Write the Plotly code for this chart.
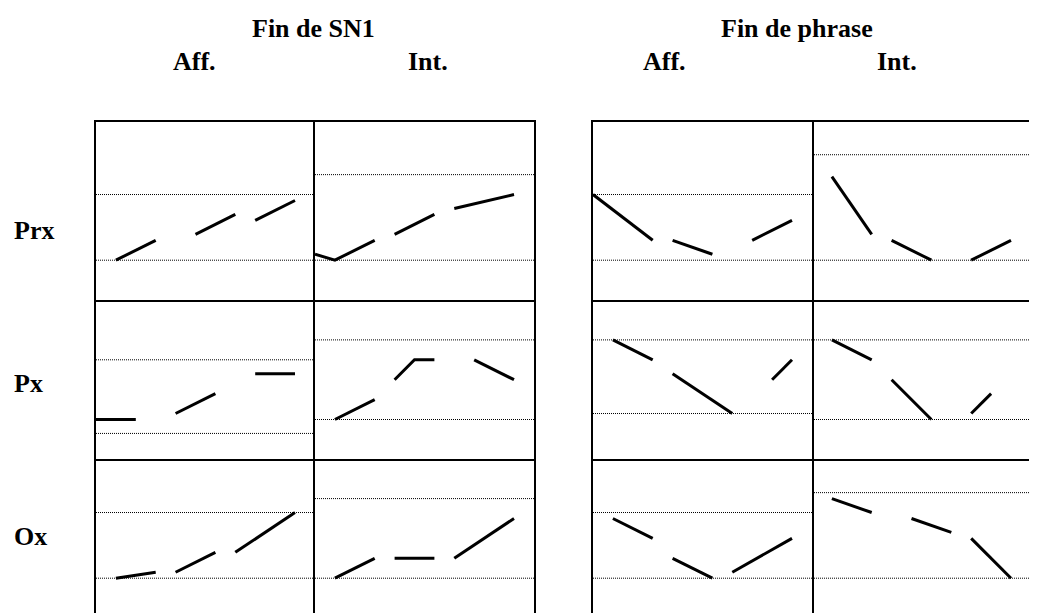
import plotly.graph_objects as go

# ---- labels ----
row_labels = ["Prx", "Px", "Ox"]
group_labels = ["Fin de SN1", "Fin de phrase"]
mode_labels = ["Aff.", "Int."]

# ---- contour segments per cell (None = gap), x in time slots, y in tone units ----
prx_sn1_aff_x = [1, 3, None, 5, 7, None, 8, 10]
prx_sn1_aff_y = [2.0, 3.0, None, 3.3, 4.3, None, 4.0, 5.0]
prx_sn1_int_x = [0, 1, 3, None, 4, 6, None, 7, 10]
prx_sn1_int_y = [2.3, 2.0, 3.0, None, 3.3, 4.3, None, 4.6, 5.3]
prx_phr_aff_x = [0, 3, None, 4, 6, None, 8, 10]
prx_phr_aff_y = [5.3, 3.0, None, 3.0, 2.3, None, 3.0, 4.0]
prx_phr_int_x = [1, 3, None, 4, 6, None, 8, 10]
prx_phr_int_y = [6.2, 3.3, None, 3.0, 2.0, None, 2.0, 3.0]

px_sn1_aff_x = [0, 2, None, 4, 6, None, 8, 10]
px_sn1_aff_y = [2.0, 2.0, None, 2.3, 3.3, None, 4.3, 4.3]
px_sn1_int_x = [1, 3, None, 4, 5, 6, None, 8, 10]
px_sn1_int_y = [2.0, 3.0, None, 4.0, 5.0, 5.0, None, 5.0, 4.0]
px_phr_aff_x = [1, 3, None, 4, 7, None, 9, 10]
px_phr_aff_y = [6.0, 5.0, None, 4.3, 2.3, None, 4.0, 5.0]
px_phr_int_x = [1, 3, None, 4, 6, None, 8, 9]
px_phr_int_y = [6.0, 5.0, None, 4.0, 2.0, None, 2.3, 3.3]

ox_sn1_aff_x = [1, 3, None, 4, 6, None, 7, 10]
ox_sn1_aff_y = [2.0, 2.3, None, 2.3, 3.3, None, 3.3, 5.3]
ox_sn1_int_x = [1, 3, None, 4, 6, None, 7, 10]
ox_sn1_int_y = [2.0, 3.0, None, 3.0, 3.0, None, 3.0, 5.0]
ox_phr_aff_x = [1, 3, None, 4, 6, None, 7, 10]
ox_phr_aff_y = [5.0, 4.0, None, 3.0, 2.0, None, 2.3, 4.0]
ox_phr_int_x = [1, 3, None, 5, 7, None, 8, 10]
ox_phr_int_y = [6.0, 5.3, None, 5.0, 4.3, None, 4.0, 2.0]

# dotted reference levels (low, high) per cell
prx_refs = [[2.0, 5.3], [2.0, 6.3], [2.0, 5.3], [2.0, 7.3]]
px_refs = [[1.3, 5.0], [2.0, 6.0], [2.3, 6.0], [2.0, 6.0]]
ox_refs = [[2.0, 5.3], [2.0, 6.0], [2.0, 5.3], [2.0, 6.3]]

cells = [
    [(prx_sn1_aff_x, prx_sn1_aff_y), (prx_sn1_int_x, prx_sn1_int_y),
     (prx_phr_aff_x, prx_phr_aff_y), (prx_phr_int_x, prx_phr_int_y)],
    [(px_sn1_aff_x, px_sn1_aff_y), (px_sn1_int_x, px_sn1_int_y),
     (px_phr_aff_x, px_phr_aff_y), (px_phr_int_x, px_phr_int_y)],
    [(ox_sn1_aff_x, ox_sn1_aff_y), (ox_sn1_int_x, ox_sn1_int_y),
     (ox_phr_aff_x, ox_phr_aff_y), (ox_phr_int_x, ox_phr_int_y)],
]
refs = [prx_refs, px_refs, ox_refs]

# ---- layout geometry (page pixels, page has an 8px body margin) ----
off = 8
W, H = 1037 - off, 613 - off
unit = 19.9
col_px = [(96, 315), (315, 534), (593, 812), (812, 1037)]
row_px = [(122, 300), (300, 459.3), (459.3, 613)]
row_bottom = [300, 459.3, 618]

fig = go.Figure()
layout = {}
n = 0
for r in range(3):
    for c in range(4):
        n += 1
        xa = "xaxis" if n == 1 else "xaxis%d" % n
        ya = "yaxis" if n == 1 else "yaxis%d" % n
        xr = "x" if n == 1 else "x%d" % n
        yr = "y" if n == 1 else "y%d" % n
        x0, x1 = col_px[c][0] - off, col_px[c][1] - off
        top, bot = row_px[r][0] - off, row_px[r][1] - off
        xmax = (x1 - x0) / unit
        ylo = (row_bottom[r] - off - bot) / unit
        yhi = (row_bottom[r] - off - top) / unit
        layout[xa] = dict(domain=[x0 / W, x1 / W], range=[0, xmax], anchor=yr,
                          showgrid=False, zeroline=False, showticklabels=False,
                          ticks="", showline=(r < 2), mirror=(r == 0),
                          side="bottom", linecolor="black", linewidth=1.5)
        layout[ya] = dict(domain=[(H - bot) / H, min(1, (H - top) / H)],
                          range=[ylo, yhi], anchor=xr, showgrid=False,
                          zeroline=False, showticklabels=False, ticks="",
                          showline=(c < 3), mirror=(c in (1, 2)), side="left",
                          linecolor="black", linewidth=1.5)
        for lvl in refs[r][c]:
            fig.add_trace(go.Scatter(x=[0, xmax], y=[lvl, lvl], mode="lines",
                                     line=dict(color="black", width=1, dash="1px,1px"),
                                     xaxis=xr, yaxis=yr, hoverinfo="skip"))
        sx, sy = cells[r][c]
        fig.add_trace(go.Scatter(x=sx, y=sy, mode="lines", connectgaps=False,
                                 line=dict(color="black", width=3),
                                 xaxis=xr, yaxis=yr))

font = dict(family="Liberation Serif, Times New Roman, serif", size=26, color="black")
ann = []
# group headers
for txt, cx in zip(group_labels, [313, 797]):
    ann.append(dict(text="<b>%s</b>" % txt, x=(cx - off) / W, y=1 - (29 - off) / H,
                    xref="paper", yref="paper", xanchor="center", yanchor="middle",
                    showarrow=False, font=font))
for cx, txt in zip([194, 428, 664, 897], mode_labels * 2):
    ann.append(dict(text="<b>%s</b>" % txt, x=(cx - off) / W, y=1 - (61 - off) / H,
                    xref="paper", yref="paper", xanchor="center", yanchor="middle",
                    showarrow=False, font=font))
for txt, cy in zip(row_labels, [230, 383, 536]):
    ann.append(dict(text="<b>%s</b>" % txt, x=(12 - off) / W, y=1 - (cy - off) / H,
                    xref="paper", yref="paper", xanchor="left", yanchor="middle",
                    showarrow=False, font=font))

fig.update_layout(**layout)
fig.update_layout(width=W, height=H, margin=dict(l=0, r=0, t=0, b=0),
                  paper_bgcolor="white", plot_bgcolor="white",
                  showlegend=False, annotations=ann)

fig.write_html("out.html")
